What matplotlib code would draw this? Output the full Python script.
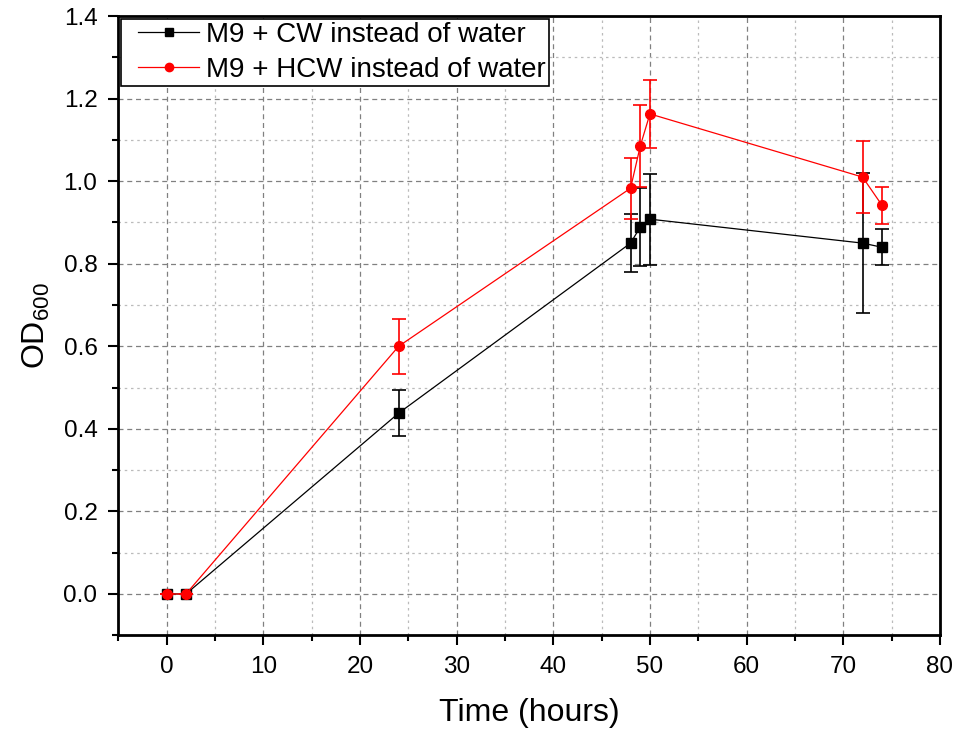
import matplotlib
matplotlib.use("Agg")
import matplotlib.pyplot as plt
from matplotlib.ticker import MultipleLocator, FormatStrFormatter
from matplotlib.lines import Line2D
from matplotlib.legend_handler import HandlerLine2D

plt.rcParams['font.family'] = ['Liberation Sans', 'DejaVu Sans']
plt.rcParams['mathtext.fontset'] = 'custom'
plt.rcParams['mathtext.rm'] = 'Liberation Sans'
plt.rcParams['mathtext.it'] = 'Liberation Sans'

# sampling times (hours)
time_h = [0, 2, 24, 48, 49, 50, 72, 74]

# M9 + CW
cw_od = [0.0, 0.0, 0.438, 0.850, 0.889, 0.908, 0.850, 0.840]
cw_err = [0.0, 0.0, 0.056, 0.070, 0.095, 0.110, 0.170, 0.044]

# M9 + HCW
hcw_od = [0.0, 0.0, 0.600, 0.983, 1.085, 1.163, 1.010, 0.942]
hcw_err = [0.0, 0.0, 0.067, 0.074, 0.100, 0.083, 0.088, 0.045]

labels = ['M9 + CW instead of water', 'M9 + HCW instead of water']

fig = plt.figure(figsize=(9.62, 7.31), dpi=100)
ax = fig.add_axes([0.123, 0.131, 0.854, 0.847])

ax.errorbar(time_h, cw_od, yerr=cw_err, color='black', marker='s', markersize=7,
            linewidth=0.9, elinewidth=1.2, capsize=5, capthick=1.2, zorder=3)
ax.errorbar(time_h, hcw_od, yerr=hcw_err, color='red', marker='o', markersize=7,
            linewidth=0.9, elinewidth=1.2, capsize=5, capthick=1.2, zorder=4)

ax.set_xlim(-5, 80)
ax.set_ylim(-0.1, 1.4)
ax.xaxis.set_major_locator(MultipleLocator(10))
ax.xaxis.set_minor_locator(MultipleLocator(5))
ax.yaxis.set_major_locator(MultipleLocator(0.2))
ax.yaxis.set_minor_locator(MultipleLocator(0.1))
ax.yaxis.set_major_formatter(FormatStrFormatter('%.1f'))

ax.grid(which='major', linestyle=(0, (4, 3)), color='#808080', linewidth=0.9)
ax.grid(which='minor', linestyle=(0, (2, 3)), color='#bbbbbb', linewidth=0.9)
ax.set_axisbelow(True)

for s in ax.spines.values():
    s.set_linewidth(2)
ax.tick_params(which='major', direction='out', length=7, width=1.5,
               labelsize=17.5, pad=8)
ax.tick_params(which='minor', direction='out', length=4, width=1.5)

ax.set_xlabel('Time (hours)', fontsize=23, labelpad=14)
ax.set_ylabel(r'$\mathrm{OD}_{600}$', fontsize=23, labelpad=8)

# legend entries without the error bars
handles = [Line2D([], [], color='black', marker='s', markersize=6, linewidth=0.9),
           Line2D([], [], color='red', marker='o', markersize=6, linewidth=0.9)]
leg = ax.legend(handles, labels, loc='upper left', fontsize=20, frameon=True,
                fancybox=False, edgecolor='black', framealpha=1,
                borderaxespad=0.1, handlelength=2.7, borderpad=0.12,
                labelspacing=0.3, handletextpad=0.25,
                handler_map={Line2D: HandlerLine2D(xpad=0.5)})
leg.get_frame().set_linewidth(1.2)

fig.savefig('out.png', dpi=100)
